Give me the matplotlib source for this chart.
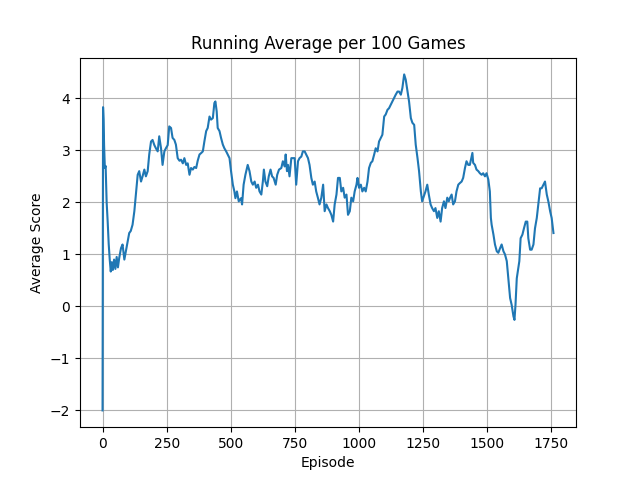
import matplotlib
matplotlib.use("Agg")
import matplotlib.pyplot as plt

# running average values (episode, score)
episodes = [
    0, 1, 2, 4, 6, 9, 12, 16, 20, 24, 28, 32, 36, 40, 45, 50, 55, 60, 65, 72,
    78, 85, 91, 98, 104, 110, 117, 124, 130, 137, 143, 150, 156, 163, 169, 176,
    182, 189, 195, 202, 208, 215, 221, 228, 234, 241, 247, 254, 260, 267, 273,
    280, 286, 293, 300, 306, 313, 319, 326, 332, 339, 345, 352, 358, 365, 371,
    378, 385, 391, 397, 404, 410, 417, 423, 430, 436, 440, 445, 449, 456, 462,
    469, 475, 482, 488, 495, 501, 508, 514, 518, 524, 531, 540, 544, 550, 557,
    566, 573, 580, 586, 593, 599, 606, 612, 619, 625, 629, 635, 642, 648, 655,
    661, 667, 675, 681, 688, 697, 703, 710, 714, 719, 723, 729, 736, 742, 749,
    755, 762, 768, 775, 781, 788, 794, 801, 807, 814, 820, 827, 833, 840, 846,
    853, 860, 866, 873, 879, 886, 892, 899, 905, 912, 918, 925, 931, 938, 944,
    951, 957, 964, 970, 977, 983, 990, 994, 1000, 1007, 1013, 1020, 1026, 1033,
    1039, 1046, 1052, 1059, 1065, 1072, 1078, 1085, 1091, 1098, 1104, 1111,
    1117, 1124, 1130, 1137, 1143, 1150, 1156, 1163, 1169, 1176, 1182, 1189,
    1195, 1202, 1208, 1215, 1221, 1228, 1234, 1241, 1246, 1253, 1259, 1266,
    1272, 1279, 1285, 1292, 1298, 1305, 1311, 1318, 1324, 1331, 1337, 1344,
    1350, 1355, 1361, 1367, 1374, 1380, 1387, 1393, 1400, 1406, 1413, 1419,
    1426, 1432, 1442, 1445, 1452, 1458, 1465, 1471, 1478, 1484, 1491, 1497,
    1504, 1510, 1514, 1517, 1524, 1530, 1537, 1543, 1550, 1556, 1563, 1569,
    1576, 1582, 1589, 1595, 1602, 1606, 1610, 1615, 1619, 1625, 1630, 1637,
    1643, 1650, 1656, 1660, 1667, 1673, 1680, 1686, 1693, 1699, 1706, 1712,
    1719, 1725, 1732, 1738, 1745, 1751, 1758,
]
avg_score = [
    -2.0, 1.3, 3.83, 3.6, 3.1, 2.66, 2.7, 2.0, 1.63, 1.2, 0.9, 0.67, 0.85, 0.7,
    0.9, 0.72, 0.95, 0.75, 0.93, 1.12, 1.19, 0.9, 1.06, 1.25, 1.41, 1.45, 1.57,
    1.83, 2.15, 2.53, 2.6, 2.4, 2.5, 2.63, 2.5, 2.6, 2.92, 3.17, 3.2, 3.1, 3.04,
    2.98, 3.27, 3.04, 2.72, 2.98, 3.04, 3.1, 3.46, 3.43, 3.24, 3.2, 3.11, 2.85,
    2.8, 2.82, 2.75, 2.85, 2.72, 2.75, 2.53, 2.66, 2.63, 2.68, 2.66, 2.8, 2.92,
    2.95, 2.98, 3.17, 3.37, 3.43, 3.65, 3.59, 3.62, 3.91, 3.94, 3.75, 3.43,
    3.37, 3.24, 3.11, 3.04, 2.98, 2.92, 2.85, 2.6, 2.34, 2.21, 2.08, 2.21, 2.02,
    2.08, 1.96, 2.34, 2.53, 2.72, 2.6, 2.4, 2.34, 2.4, 2.28, 2.34, 2.21, 2.15,
    2.4, 2.63, 2.4, 2.31, 2.5, 2.63, 2.5, 2.47, 2.34, 2.53, 2.63, 2.66, 2.79,
    2.69, 2.92, 2.6, 2.72, 2.5, 2.85, 2.85, 2.85, 2.34, 2.79, 2.85, 2.88, 2.98,
    2.98, 2.92, 2.85, 2.72, 2.47, 2.34, 2.4, 2.21, 2.08, 1.96, 2.09, 2.34, 1.83,
    1.96, 1.89, 1.83, 1.76, 1.63, 1.96, 2.15, 2.47, 2.47, 2.21, 2.28, 2.09,
    2.15, 1.76, 1.83, 2.09, 2.02, 2.21, 2.34, 2.47, 2.28, 2.34, 2.21, 2.28,
    2.21, 2.4, 2.66, 2.76, 2.79, 2.92, 3.04, 2.98, 3.17, 3.24, 3.3, 3.65, 3.69,
    3.78, 3.81, 3.88, 3.94, 4.01, 4.07, 4.13, 4.13, 4.07, 4.2, 4.46, 4.36, 4.13,
    3.94, 3.62, 3.53, 3.49, 3.11, 2.85, 2.6, 2.21, 2.02, 2.12, 2.21, 2.34, 2.15,
    1.96, 1.89, 1.83, 1.89, 1.7, 1.83, 1.63, 1.89, 2.02, 1.89, 2.09, 2.02, 2.09,
    2.15, 1.96, 2.02, 2.21, 2.34, 2.37, 2.4, 2.47, 2.66, 2.79, 2.72, 2.72, 2.95,
    2.76, 2.72, 2.63, 2.6, 2.56, 2.53, 2.56, 2.5, 2.56, 2.44, 2.21, 1.7, 1.57,
    1.38, 1.19, 1.06, 1.03, 1.12, 1.19, 1.06, 1.0, 0.87, 0.54, 0.16, 0.03,
    -0.19, -0.26, 0.03, 0.54, 0.67, 0.87, 1.31, 1.38, 1.5, 1.63, 1.63, 1.31,
    1.09, 1.09, 1.19, 1.5, 1.7, 1.96, 2.27, 2.27, 2.34, 2.4, 2.15, 2.02, 1.83,
    1.7, 1.41,
]

fig, ax = plt.subplots(figsize=(6.4, 4.8), dpi=100)
ax.plot(episodes, avg_score)
ax.set_title("Running Average per 100 Games")
ax.set_xlabel("Episode")
ax.set_ylabel("Average Score")
ax.grid(True)

plt.savefig("out.png", dpi=100)
